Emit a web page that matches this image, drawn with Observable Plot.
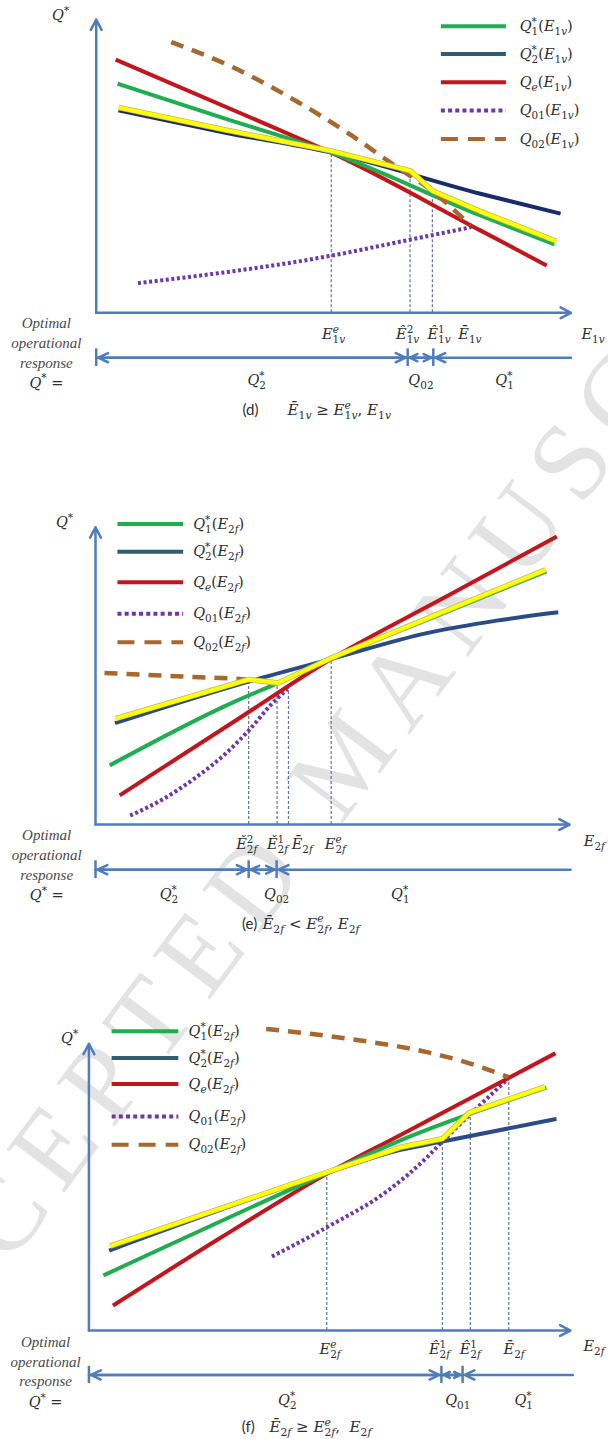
<!DOCTYPE html>
<html>
<head>
<meta charset="utf-8">
<script src="https://cdn.jsdelivr.net/npm/d3@7"></script>
<script src="https://cdn.jsdelivr.net/npm/@observablehq/plot@0.6"></script>
<style>
  html,body{margin:0;padding:0;background:#fff;}
  #wrap{position:relative;width:608px;height:1439px;overflow:hidden;background:#fff;}
  #wm{position:absolute;left:350px;top:752px;transform:translate(-50%,-50%) rotate(-53deg);
      font-family:"Liberation Serif",serif;font-size:110px;letter-spacing:15.5px;line-height:1;color:#e3e3e3;
      white-space:nowrap;pointer-events:none;}
  .panel{position:absolute;left:0;}
  .panel svg{display:block;}
</style>
</head>
<body>
<div id="wrap"><div id="wm">ACCEPTED MANUSCRIPT</div></div>
<script>
// ---------------- Panel (d): curves vs E1v (x: 0..100 along axis, y: 0..100 up the axis) -------------
const dQ1E  = [4.5, 27.0, 49.5, 80.9, 96.5];
const dQ1V  = [78.1, 66.3, 54.6, 33.2, 23.3];
const dQ2E  = [4.7, 27.0, 49.5, 80.9, 97.8];
const dQ2V  = [69.0, 61.5, 54.6, 40.6, 33.8];
const dQeE  = [4.1, 38.8, 49.5, 80.9, 94.9];
const dQeV  = [86.3, 62.2, 54.6, 28.1, 16.1];
const dQ01E = [8.8, 49.6, 66.0, 79.0];
const dQ01V = [10.1, 19.5, 24.9, 29.2];
const dQ02E = [15.8, 28.8, 41.9, 53.3, 63.4, 69.7, 73.9, 78.8];
const dQ02V = [92.3, 83.7, 72.4, 61.0, 49.6, 42.8, 37.2, 29.8];
const dOptE = [4.7, 27.0, 49.5, 66.2, 70.8, 80.9, 96.9];
const dOptV = [70.0, 62.4, 55.2, 48.4, 41.6, 34.6, 24.4];
const dDropE = [49.5, 66.1, 70.8];
const dDropV = [54.6, 48.0, 41.6];
const dTickE = [50.0, 65.6, 72.2, 78.7];
const dTickLabels = ["E_{1v}^e", "Ê_{1v}^2", "Ê_{1v}^1", "Ē_{1v}"];
const dBreaks = [0, 65.6, 71.0, 100];
const dRegionE = [33.8, 68.4, 86.0];
const dRegionLabels = ["Q_2^*", "Q_{02}", "Q_1^*"];
const dLegend = ["Q_1^*(E_{1v})", "Q_2^*(E_{1v})", "Q_e(E_{1v})", "Q_{01}(E_{1v})", "Q_{02}(E_{1v})"];

// ---------------- Panel (e): curves vs E2f ----------------
const eQ1E  = [3.0, 29.0, 38.3, 49.7, 72.8, 95.1];
const eQ1V  = [19.9, 41.1, 47.5, 55.7, 70.7, 85.2];
const eQ2E  = [4.1, 32.3, 49.7, 69.9, 84.6, 97.6];
const eQ2V  = [34.1, 48.1, 55.7, 64.4, 68.6, 71.4];
const eQeE  = [5.1, 29.0, 49.7, 74.0, 97.3];
const eQeV  = [9.8, 34.4, 55.7, 76.7, 96.9];
const eQ01E = [7.3, 14.3, 20.8, 27.4, 32.3, 37.2, 40.5];
const eQ01V = [3.0, 8.6, 15.4, 23.8, 31.6, 40.6, 45.6];
const eQ02E = [1.9, 20.8, 32.3, 38.4];
const eQ02V = [51.0, 49.6, 48.7, 47.5];
const eOptE = [4.2, 32.3, 38.5, 49.7, 72.8, 94.9];
const eOptV = [35.6, 48.8, 47.6, 56.0, 71.2, 85.7];
const eDropE = [32.3, 38.3, 40.7, 49.7];
const eDropV = [48.4, 47.3, 46.0, 55.7];
const eTickE = [31.9, 38.4, 43.6, 50.6];
const eTickLabels = ["Ě_{2f}^2", "Ě_{2f}^1", "Ē_{2f}", "E_{2f}^e"];
const eBreaks = [0, 32.3, 38.2, 100.2];
const eRegionE = [15.5, 38.2, 64.3];
const eRegionLabels = ["Q_2^*", "Q_{02}", "Q_1^*"];
const eLegend = ["Q_1^*(E_{2f})", "Q_2^*(E_{2f})", "Q_e(E_{2f})", "Q_{01}(E_{2f})", "Q_{02}(E_{2f})"];

// ---------------- Panel (f): curves vs E2f ----------------
const fQ1E  = [3.0, 49.4, 64.7, 95.0];
const fQ1V  = [19.2, 54.9, 66.3, 84.7];
const fQ2E  = [4.2, 49.4, 64.7, 73.4, 97.1];
const fQ2V  = [27.9, 54.9, 63.0, 65.9, 73.8];
const fQeE  = [5.0, 27.0, 49.4, 64.7, 96.9];
const fQeV  = [8.7, 32.0, 54.7, 68.2, 96.7];
const fQ01E = [38.0, 49.4, 62.1, 70.2, 73.4, 79.3, 87.1];
const fQ01V = [25.8, 36.0, 48.8, 60.4, 65.9, 75.6, 87.8];
const fQ02E = [36.8, 54.1, 70.2, 78.2, 87.1];
const fQ02V = [105.2, 101.7, 97.1, 93.6, 88.4];
const fOptE = [4.4, 49.4, 64.7, 73.4, 79.0, 94.7];
const fOptV = [29.4, 55.2, 63.9, 66.9, 76.0, 85.0];
const fDropE = [49.4, 73.4, 79.2, 87.2];
const fDropV = [54.9, 65.9, 75.6, 88.0];
const fTickE = [50.1, 72.8, 79.2, 88.3];
const fTickLabels = ["E_{2f}^e", "Ê_{2f}^1", "Ê_{2f}^1", "Ē_{2f}"];
const fBreaks = [0, 73.2, 77.6, 100.5];
const fRegionE = [41.2, 76.6, 90.3];
const fRegionLabels = ["Q_2^*", "Q_{01}", "Q_1^*"];
const fLegend = eLegend;

// ---------------- styles ----------------
const GREEN = "#1fae4f", RED = "#c3151c", PURPLE = "#7035a6", BROWN = "#a8672d",
      YELLOW = "#ffff00", AXIS = "#4f7dbb", DROP = "#62739a", TEXT = "#2e2e2e", LEG_NAVY = "#2e5e70";
const MATH = "'DejaVu Serif', 'Liberation Serif', serif";
const MATH_SIZE = 14.5;

const rows = (xs, ys) => xs.map((x, i) => ({x, y: ys[i]}));

const panels = [
  {tag: "(d)", top: 0, height: 440, xDomain: [-20.16, 107.9], yDomain: [-43.54, 106.48], navy: "#182b6a",
   q1: [dQ1E, dQ1V], q2: [dQ2E, dQ2V], qe: [dQeE, dQeV], q01: [dQ01E, dQ01V], q02: [dQ02E, dQ02V], opt: [dOptE, dOptV],
   drops: [dDropE, dDropV], ticks: [dTickE, dTickLabels], breaks: dBreaks, regions: [dRegionE, dRegionLabels],
   legend: dLegend, axisLabel: "E_{1v}", caption: "Ē_{1v} ≥ E_{1v}^e, E_{1v}",
   lay: {legX1: 72.7, legX2: 86.4, legTextX: 89.2, legY: [97.7, 88.2, 78.6, 69.0, 59.3], tickY: -7.4,
         axisLabelX: 102.2, axisLabelY: -7.4, qX: -7.5, qY: 101.3, optX: -10.5, optY: [-3.5, -10.4, -17.2, -23.9],
         arrowY: -15.3, regionY: -23.1, capY: -33.3, tagX: 32.5, formulaX: 40.3}},
  {tag: "(e)", top: 440, height: 490, xDomain: [-20.04, 108.2], yDomain: [-35.65, 129.2], navy: "#2a4b85",
   q1: [eQ1E, eQ1V], q2: [eQ2E, eQ2V], qe: [eQeE, eQeV], q01: [eQ01E, eQ01V], q02: [eQ02E, eQ02V], opt: [eOptE, eOptV],
   drops: [eDropE, eDropV], ticks: [eTickE, eTickLabels], breaks: eBreaks, regions: [eRegionE, eRegionLabels],
   legend: eLegend, axisLabel: "E_{2f}", caption: "Ē_{2f} < E_{2f}^e, E_{2f}",
   lay: {legX1: 4.73, legX2: 18.6, legTextX: 20.6, legY: [101.1, 91.8, 81.5, 70.9, 61.3], tickY: -6.7,
         axisLabelX: 103.0, axisLabelY: -5.6, qX: -6.54, qY: 101.7, optX: -10.3, optY: [-3.7, -10.4, -17.2, -23.9],
         arrowY: -15.2, regionY: -23.6, capY: -33.4, tagX: 32.5, formulaX: 35.2}},
  {tag: "(f)", top: 930, height: 509, xDomain: [-18.36, 107.9], yDomain: [-38.0, 139.5], navy: "#2a4b85",
   q1: [fQ1E, fQ1V], q2: [fQ2E, fQ2V], qe: [fQeE, fQeV], q01: [fQ01E, fQ01V], q02: [fQ02E, fQ02V], opt: [fOptE, fOptV],
   drops: [fDropE, fDropV], ticks: [fTickE, fTickLabels], breaks: fBreaks, regions: [fRegionE, fRegionLabels],
   legend: fLegend, axisLabel: "E_{2f}", caption: "Ē_{2f} ≥ E_{2f}^e,  E_{2f}",
   lay: {legX1: 4.82, legX2: 18.67, legTextX: 20.7, legY: [104.4, 95.0, 86.0, 74.6, 64.8], tickY: -6.5,
         axisLabelX: 102.7, axisLabelY: -5.5, qX: -4.0, qY: 101.8, optX: -9.0, optY: [-4.1, -11.1, -17.8, -25.0],
         arrowY: -15.5, regionY: -24.4, capY: -33.7, tagX: 33.1, formulaX: 37.5}}
];

function buildPanel(p) {
  const L = p.lay;
  const line = (xy, o) => Plot.line(rows(xy[0], xy[1]), {x: "x", y: "y", strokeLinecap: "butt", strokeLinejoin: "round", ...o});
  const dropRows = rows(p.drops[0], p.drops[1]);
  const tickRows = p.ticks[0].map((x, i) => ({x, label: p.ticks[1][i]}));
  const regionRows = p.regions[0].map((x, i) => ({x, label: p.regions[1][i]}));
  const b = p.breaks;
  const seg = [
    {x1: b[0], x2: b[1]}, {x1: b[1], x2: b[0]},
    {x1: b[1], x2: b[2]}, {x1: b[2], x2: b[1]},
    {x1: b[3], x2: b[2]}
  ];
  const legendStyles = [
    {stroke: GREEN}, {stroke: LEG_NAVY}, {stroke: RED},
    {stroke: PURPLE, strokeDasharray: "4,3.2"}, {stroke: BROWN, strokeDasharray: "17,10"}
  ];
  const legendLines = legendStyles.map((s, i) =>
    Plot.ruleY([L.legY[i]], {y: d => d, x1: () => L.legX1, x2: () => L.legX2, strokeWidth: 4, ...s}));
  const legendRows = p.legend.map((label, i) => ({label, y: L.legY[i]}));
  const mathText = (data, o) => Plot.text(data, {fontFamily: MATH, fontStyle: "italic", fontSize: MATH_SIZE, fill: TEXT, ...o});

  return Plot.plot({
    width: 608, height: p.height, margin: 0,
    x: {domain: p.xDomain, axis: null},
    y: {domain: p.yDomain, axis: null},
    style: "background: transparent; overflow: visible;",
    marks: [
      Plot.ruleX(dropRows, {x: "x", y1: () => 0, y2: "y", stroke: DROP, strokeWidth: 1.2, strokeDasharray: "3,2"}),
      Plot.arrow([{x1: 0, y1: 0, x2: 0, y2: 100}, {x1: 0, y1: 0, x2: 100, y2: 0}],
        {x1: "x1", y1: "y1", x2: "x2", y2: "y2", stroke: AXIS, strokeWidth: 2.5, headLength: 7, headAngle: 55}),
      line(p.q01, {stroke: PURPLE, strokeWidth: 4, strokeDasharray: "3,2.6", curve: "monotone-x"}),
      line(p.q2, {stroke: p.navy, strokeWidth: 4, curve: "monotone-x"}),
      line(p.qe, {stroke: RED, strokeWidth: 4, curve: "monotone-x"}),
      line(p.q1, {stroke: GREEN, strokeWidth: 4, curve: "monotone-x"}),
      line(p.q02, {stroke: BROWN, strokeWidth: 4.5, strokeDasharray: "13,9", curve: "monotone-x"}),
      line(p.opt, {stroke: "#bdb76b", strokeWidth: 5.5}),
      line(p.opt, {stroke: YELLOW, strokeWidth: 4}),
      ...legendLines,
      mathText(legendRows, {x: () => L.legTextX, y: "y", text: "label", textAnchor: "start"}),
      mathText(tickRows, {x: "x", y: () => L.tickY, text: "label"}),
      mathText([p.axisLabel], {x: () => L.axisLabelX, y: () => L.axisLabelY, text: d => d, textAnchor: "start"}),
      mathText(["Q^*"], {x: () => L.qX, y: () => L.qY, text: d => d}),
      Plot.text(["Optimal", "operational", "response"], {x: () => L.optX, y: (d, i) => L.optY[i], text: d => d,
        fontFamily: "'Liberation Serif', serif", fontStyle: "italic", fontSize: 15, fill: "#4a4a4a"}),
      mathText(["Q^* ="], {x: () => L.optX, y: () => L.optY[3], text: d => d}),
      Plot.arrow(seg, {x1: "x1", x2: "x2", y1: () => L.arrowY, y2: () => L.arrowY, stroke: AXIS,
        strokeWidth: 2.5, headLength: 6.5, headAngle: 50, insetEnd: 2}),
      Plot.ruleX(b.slice(0, 3), {x: d => d, y1: () => L.arrowY - 3, y2: () => L.arrowY + 3, stroke: AXIS, strokeWidth: 2.5}),
      mathText(regionRows, {x: "x", y: () => L.regionY, text: "label"}),
      Plot.text([p.tag], {x: () => L.tagX, y: () => L.capY, text: d => d,
        fontFamily: "Lato, 'Open Sans', sans-serif", fontSize: 15, fill: TEXT}),
      mathText([p.caption], {x: () => L.formulaX, y: () => L.capY, text: d => d, textAnchor: "start", fontSize: 15})
    ]
  });
}

// ---- minimal math markup: X_{sub}^{sup} -> tspans ----
const NS = "http://www.w3.org/2000/svg";
function parseMath(s) {
  const out = []; let i = 0, buf = "";
  const grab = () => {
    if (s[i] === "{") { const j = s.indexOf("}", i); const g = s.slice(i + 1, j); i = j + 1; return g; }
    return s[i++];
  };
  while (i < s.length) {
    const c = s[i];
    if (c === "_" || c === "^") {
      if (buf) { out.push({k: "n", t: buf}); buf = ""; }
      i++;
      const g = grab();
      const item = {k: c === "_" ? "sub" : "sup", t: g};
      if ((s[i] === "_" || s[i] === "^") && s[i] !== c) {
        i++;
        const g2 = grab();
        item.k = "stack";
        item.sub = c === "_" ? g : g2;
        item.sup = c === "^" ? g : g2;
      }
      out.push(item);
    } else { buf += c; i++; }
  }
  if (buf) out.push({k: "n", t: buf});
  return out;
}
function renderMath(el) {
  const s = el.textContent;
  if (!/[_^]/.test(s)) return;
  const fs = parseFloat(getComputedStyle(el).fontSize);
  const small = +(fs * 0.72).toFixed(2);
  const SUB = fs * 0.28, SUP = -fs * 0.42;
  el.textContent = "";
  let cur = 0, pendingDx = 0;
  const letter = /[A-Za-z\u00C0-\u017F]/;
  const group = (t, shift, size) => {
    const g = document.createElementNS(NS, "tspan");
    if (shift !== cur) { g.setAttribute("dy", (shift - cur).toFixed(2)); cur = shift; }
    if (size) g.setAttribute("font-size", size);
    if (pendingDx) { g.setAttribute("dx", pendingDx.toFixed(2)); pendingDx = 0; }
    for (const run of t.match(/[A-Za-z\u00C0-\u017F]+|[^A-Za-z\u00C0-\u017F]+/g) || []) {
      const r = document.createElementNS(NS, "tspan");
      r.textContent = run;
      if (!letter.test(run)) r.setAttribute("font-style", "normal");
      g.appendChild(r);
    }
    el.appendChild(g);
    return g;
  };
  for (const p of parseMath(s)) {
    if (p.k === "n") group(p.t, 0);
    else if (p.k === "sub") group(p.t, SUB, small);
    else if (p.k === "sup") group(p.t, SUP, small);
    else {
      const a = group(p.sup, SUP, small);
      const wa = a.getComputedTextLength();
      const bb = group(p.sub, SUB, small);
      bb.setAttribute("dx", (-wa).toFixed(2));
      const wb = bb.getComputedTextLength();
      if (wb < wa) pendingDx = wa - wb;
    }
  }
}

const wrap = document.getElementById("wrap");
for (const p of panels) {
  const svg = buildPanel(p);
  const div = document.createElement("div");
  div.className = "panel";
  div.style.top = p.top + "px";
  div.appendChild(svg);
  wrap.appendChild(div);
  svg.querySelectorAll("text").forEach(renderMath);
}
</script>
</body>
</html>
